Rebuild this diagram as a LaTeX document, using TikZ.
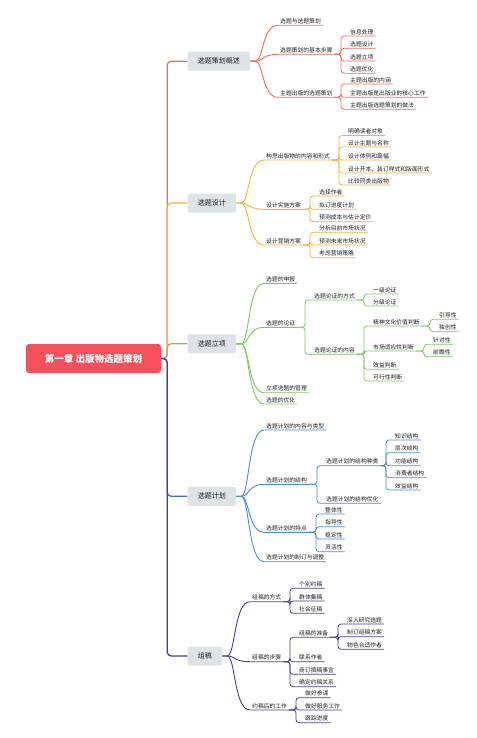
\documentclass[tikz,border=0pt]{standalone}
\usepackage{fontspec}
\setmainfont{Noto Sans CJK SC}
\usepackage{tikz}
\usepackage{xcolor}
\usetikzlibrary{calc}
\definecolor{cRoot}{RGB}{245,80,92}
\definecolor{cTopic}{RGB}{221,227,230}
\definecolor{cText}{RGB}{30,30,30}
\definecolor{cRed}{RGB}{243,107,91}
\definecolor{cOrange}{RGB}{248,177,51}
\definecolor{cGreen}{RGB}{128,197,99}
\definecolor{cBlue}{RGB}{72,138,220}
\definecolor{cPurple}{RGB}{76,58,150}
\tikzset{
	root/.style ={rectangle, rounded corners=3pt, fill=cRoot, text=white, font=\fontsize{9.5}{10}\selectfont\bfseries, minimum width=135pt, minimum height=29pt, inner sep=0pt},
	topic/.style={rectangle, rounded corners=2pt, fill=cTopic, text=cText, font=\fontsize{7}{8}\selectfont, minimum height=19pt, inner xsep=10.3pt, inner ysep=0pt, anchor=west},
	sub/.style  ={anchor=south west, inner xsep=2pt, inner ysep=1.2pt, text=cText, font=\fontsize{5.8}{6}\selectfont},
	% connector styles
	trunk/.style={line width=1.3pt, rounded corners=4pt},
	curve/.style={line width=0.9pt},
	brk/.style  ={line width=0.8pt, rounded corners=3pt},
}
\begin{document}
\begin{tikzpicture}[x=1pt, y=-1pt]
	\useasboundingbox (0,0) rectangle (476,738);
	\node[root] (root) at (93.5,358.5) {第一章 出版物选题策划};
	\node[topic] (b1) at (187.3,61.2) {选题策划概述};
	\node[topic] (b2) at (187.3,203) {选题设计};
	\node[topic] (b3) at (187.3,343.8) {选题立项};
	\node[topic] (b4) at (187.3,496.3) {选题计划};
	\node[topic] (b5) at (187.3,656) {组稿};
	% 选题策划概述
	\node[sub] (b1a) at (278,25.3) {选题与选题策划};
	\node[sub] (b1b) at (278,54.3) {选题策划的基本步骤};
	\node[sub] (b1c) at (278,97.3) {主题出版的选题策划};
	\node[sub] (b1b1) at (348,36) {信息处理};
	\node[sub] (b1b2) at (348,48.3) {选题设计};
	\node[sub] (b1b3) at (348,61) {选题立项};
	\node[sub] (b1b4) at (348,73.3) {选题优化};
	\node[sub] (b1c1) at (348,84) {主题出版的内涵};
	\node[sub] (b1c2) at (348,97.3) {主题出版是出版业的核心工作};
	\node[sub] (b1c3) at (348,109.3) {主题出版选题策划的做法};
	% 选题设计
	\node[sub] (b2a) at (264,160) {构思出版物的内容和形式};
	\node[sub] (b2b) at (264,209.3) {设计实施方案};
	\node[sub] (b2c) at (264,245) {设计营销方案};
	\node[sub] (b2a1) at (346,135.5) {明确读者对象};
	\node[sub] (b2a2) at (346,147) {设计主题与名称};
	\node[sub] (b2a3) at (346,160) {设计体例和篇幅};
	\node[sub] (b2a4) at (346,173) {设计开本、装订样式和版面形式};
	\node[sub] (b2a5) at (346,185) {比较同类出版物};
	\node[sub] (b2b1) at (317,196) {选择作者};
	\node[sub] (b2b2) at (317,209.3) {拟订进度计划};
	\node[sub] (b2b3) at (317,221.7) {预测成本与估计定价};
	\node[sub] (b2c1) at (317,232.3) {分析目前市场状况};
	\node[sub] (b2c2) at (317,245) {预测未来市场状况};
	\node[sub] (b2c3) at (317,257.7) {考虑营销策略};
	% 选题立项
	\node[sub] (b3a) at (264,283.3) {选题的申报};
	\node[sub] (b3b) at (264,327.3) {选题的论证};
	\node[sub] (b3c) at (264,392.7) {立项选题的管理};
	\node[sub] (b3d) at (264,404) {选题的优化};
	\node[sub] (b3b1) at (312,300) {选题论证的方式};
	\node[sub] (b3b2) at (312,354.3) {选题论证的内容};
	\node[sub] (b3b1a) at (371,294) {一级论证};
	\node[sub] (b3b1b) at (371,306) {分级论证};
	\node[sub] (b3b2a) at (371,326) {精神文化价值判断};
	\node[sub] (b3b2b) at (371,351) {市场适应性判断};
	\node[sub] (b3b2c) at (371,369.3) {效益判断};
	\node[sub] (b3b2d) at (371,381) {可行性判断};
	\node[sub] (yd) at (437,319.3) {引导性};
	\node[sub] (dc) at (437,331.7) {独创性};
	\node[sub] (zd) at (431,344.3) {针对性};
	\node[sub] (qz) at (431,356.7) {前瞻性};
	% 选题计划
	\node[sub] (b4a) at (264,430) {选题计划的内容与类型};
	\node[sub] (b4b) at (264,484.3) {选题计划的结构};
	\node[sub] (b4c) at (264,532.3) {选题计划的特点};
	\node[sub] (b4d) at (264,561.7) {选题计划的制订与调整};
	\node[sub] (b4b1) at (324,465.7) {选题计划的结构种类};
	\node[sub] (b4b2) at (324,503.3) {选题计划的结构优化};
	\node[sub] (zs) at (393,440) {知识结构};
	\node[sub] (cc) at (393,452.7) {层次结构};
	\node[sub] (gn) at (393,465.7) {功能结构};
	\node[sub] (xf) at (393,477.7) {消费者结构};
	\node[sub] (xy) at (393,490) {效益结构};
	\node[sub] (zt) at (323,514) {整体性};
	\node[sub] (zdx) at (323,526.7) {指导性};
	\node[sub] (wd) at (323,539) {稳定性};
	\node[sub] (lh) at (323,551.7) {灵活性};
	% 组稿
	\node[sub] (b5a) at (250,601.7) {组稿的方式};
	\node[sub] (b5b) at (250,661.7) {组稿的步骤};
	\node[sub] (b5c) at (250,710) {约稿后的工作};
	\node[sub] (b5a1) at (297,588.3) {个别约稿};
	\node[sub] (b5a2) at (297,601) {群体集稿};
	\node[sub] (b5a3) at (297,613.3) {社会征稿};
	\node[sub] (b5b1) at (297,637.3) {组稿的准备};
	\node[sub] (b5b2) at (297,661.7) {联系作者};
	\node[sub] (b5b3) at (297,674.3) {商订撰稿事宜};
	\node[sub] (b5b4) at (297,686.7) {确定约稿关系};
	\node[sub] (yj) at (345,624) {深入研究选题};
	\node[sub] (fa) at (345,636.7) {制订组稿方案};
	\node[sub] (zz) at (345,649.3) {物色合适作者};
	\node[sub] (b5c1) at (303,697.7) {做好参谋};
	\node[sub] (b5c2) at (303,710) {做好服务工作};
	\node[sub] (b5c3) at (303,722.7) {跟踪进度};
	% trunk
	\draw[trunk, cRed] (root.east) -- ++(6,0) |- (b1.west);
	\draw[trunk, cOrange] (root.east) -- ++(6,0) |- (b2.west);
	\draw[trunk, cBlue!70!cPurple] (root.east) -- ++(6,0) |- (b4.west);
	\draw[trunk, cGreen] (root.east) -- ++(6,0) |- (b3.west);
	\draw[trunk, cPurple] (root.east) -- ++(6,0) |- (b5.west);
	% topic to subtopic
	\foreach \c in {b1a,b1b,b1c} \draw[curve, cRed] (b1.east) -- ++(5,0) .. controls +(8,0) and +(-16,0) .. (\c.south west) -- (\c.south east);
	\foreach \c in {b2a,b2b,b2c} \draw[curve, cOrange] (b2.east) -- ++(5,0) .. controls +(8,0) and +(-16,0) .. (\c.south west) -- (\c.south east);
	\foreach \c in {b3a,b3b,b3c,b3d} \draw[curve, cGreen] (b3.east) -- ++(5,0) .. controls +(8,0) and +(-16,0) .. (\c.south west) -- (\c.south east);
	\foreach \c in {b4a,b4b,b4c,b4d} \draw[curve, cBlue] (b4.east) -- ++(5,0) .. controls +(8,0) and +(-16,0) .. (\c.south west) -- (\c.south east);
	\foreach \c in {b5a,b5b,b5c} \draw[curve, cPurple] (b5.east) -- ++(5,0) .. controls +(8,0) and +(-16,0) .. (\c.south west) -- (\c.south east);
	% brackets
	\foreach \p/\c in {b1b/b1b1,b1b/b1b2,b1b/b1b3,b1b/b1b4,b1c/b1c1,b1c/b1c2,b1c/b1c3}
		\draw[brk, cRed] (\p.south east) -| ($(\c.south west)+(-7,0)$) -- (\c.south east);
	\foreach \p/\c in {b2a/b2a1,b2a/b2a2,b2a/b2a3,b2a/b2a4,b2a/b2a5,b2b/b2b1,b2b/b2b2,b2b/b2b3,b2c/b2c1,b2c/b2c2,b2c/b2c3}
		\draw[brk, cOrange] (\p.south east) -| ($(\c.south west)+(-7,0)$) -- (\c.south east);
	\foreach \p/\c in {b3b/b3b1,b3b/b3b2,b3b1/b3b1a,b3b1/b3b1b,b3b2/b3b2a,b3b2/b3b2b,b3b2/b3b2c,b3b2/b3b2d,b3b2a/yd,b3b2a/dc,b3b2b/zd,b3b2b/qz}
		\draw[brk, cGreen] (\p.south east) -| ($(\c.south west)+(-7,0)$) -- (\c.south east);
	\foreach \p/\c in {b4b/b4b1,b4b/b4b2,b4b1/zs,b4b1/cc,b4b1/gn,b4b1/xf,b4b1/xy,b4c/zt,b4c/zdx,b4c/wd,b4c/lh}
		\draw[brk, cBlue] (\p.south east) -| ($(\c.south west)+(-7,0)$) -- (\c.south east);
	\foreach \p/\c in {b5a/b5a1,b5a/b5a2,b5a/b5a3,b5b/b5b1,b5b/b5b2,b5b/b5b3,b5b/b5b4,b5b1/yj,b5b1/fa,b5b1/zz,b5c/b5c1,b5c/b5c2,b5c/b5c3}
		\draw[brk, cPurple] (\p.south east) -| ($(\c.south west)+(-7,0)$) -- (\c.south east);
\end{tikzpicture}
\end{document}
